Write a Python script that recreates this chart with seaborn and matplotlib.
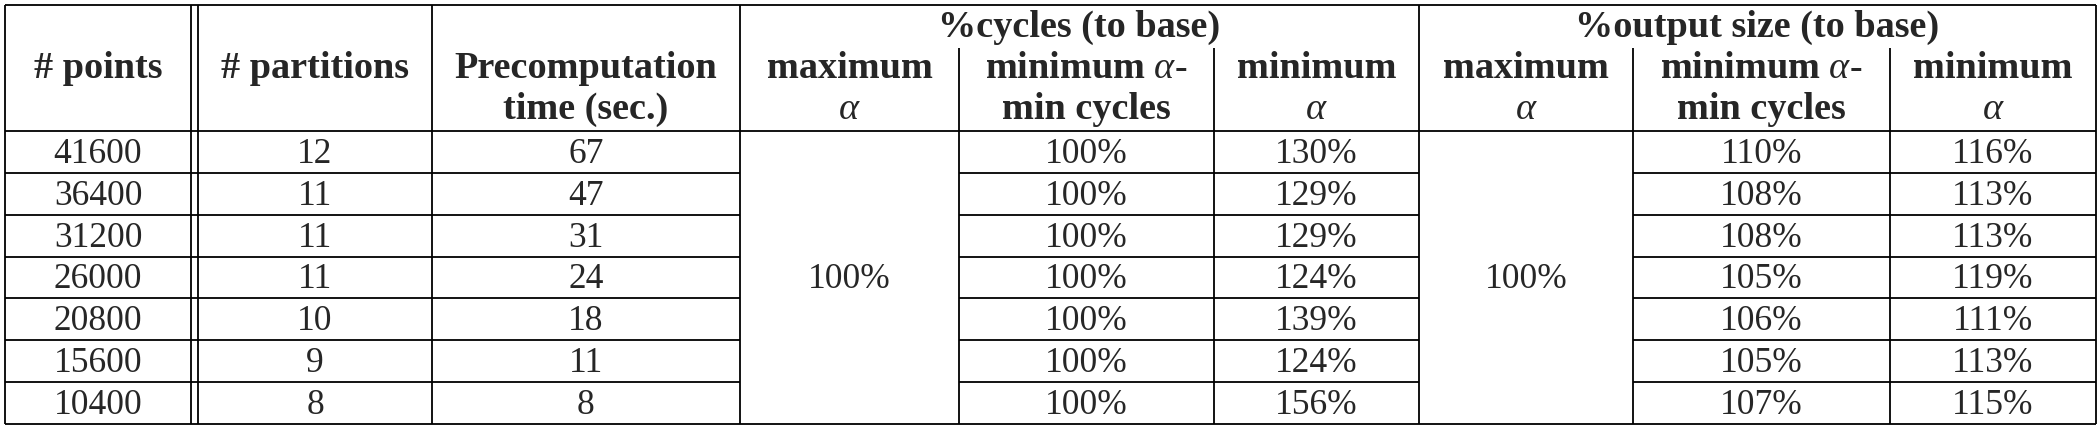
import matplotlib
matplotlib.use("Agg")
import matplotlib.pyplot as plt
import seaborn as sns
import pandas as pd

# table values
points = [41600, 36400, 31200, 26000, 20800, 15600, 10400]
partitions = [12, 11, 11, 11, 10, 9, 8]
precomp_time = [67, 47, 31, 24, 18, 11, 8]
cycles_max_alpha = 100
cycles_min_alpha_min_cycles = [100, 100, 100, 100, 100, 100, 100]
cycles_min_alpha = [130, 129, 129, 124, 139, 124, 156]
size_max_alpha = 100
size_min_alpha_min_cycles = [110, 108, 108, 105, 106, 105, 107]
size_min_alpha = [116, 113, 113, 119, 111, 113, 115]

group_labels = ["%cycles (to base)", "%output size (to base)"]
head_line1 = ["# points", "# partitions", "Precomputation", "maximum", r"minimum $\alpha$-", "minimum",
              "maximum", r"minimum $\alpha$-", "minimum"]
head_line2 = ["", "", "time (sec.)", r"$\alpha$", "min cycles", r"$\alpha$",
              r"$\alpha$", "min cycles", r"$\alpha$"]

df = pd.DataFrame({
    "points": points,
    "partitions": partitions,
    "precomp": precomp_time,
    "c_mamc": cycles_min_alpha_min_cycles,
    "c_min": cycles_min_alpha,
    "s_mamc": size_min_alpha_min_cycles,
    "s_min": size_min_alpha,
})

sns.set_theme(style="white")
plt.rcParams['font.family'] = ['Liberation Serif', 'DejaVu Serif']
plt.rcParams['mathtext.fontset'] = 'custom'
plt.rcParams['mathtext.rm'] = 'Liberation Serif'
plt.rcParams['mathtext.it'] = 'Liberation Serif:italic'
plt.rcParams['mathtext.bf'] = 'Liberation Serif:bold'

W, H = 2100, 429
fig = plt.figure(figsize=(W / 100, H / 100), dpi=100)
ax = fig.add_axes([0, 0, 1, 1])
ax.set_xlim(0, W)
ax.set_ylim(H, 0)
ax.axis('off')

# layout (pixels)
xs = [5, 191, 432, 740, 959, 1214, 1419, 1633, 1890, 2096]
x_double = 198
left_edges = [5, 198, 432, 740, 959, 1214, 1419, 1633, 1890]
y_top, y_sub, y_head, y_bot = 5, 48, 131, 424
nrows = len(points)
row_h = (y_bot - y_head) / nrows
row_y = [y_head + row_h * i for i in range(nrows + 1)]

lc = 'black'
lw = 1.3

# borders and vertical rules
ax.hlines([y_top, y_head, y_bot], xs[0], xs[-1], color=lc, lw=lw)
for x in [xs[0], xs[1], x_double, xs[2], xs[3], xs[6], xs[9]]:
    ax.vlines(x, y_top, y_bot, color=lc, lw=lw)
for x in [xs[4], xs[5], xs[7], xs[8]]:
    ax.vlines(x, y_sub, y_bot, color=lc, lw=lw)
# row rules (skip merged "maximum alpha" columns)
for y in row_y[1:-1]:
    for a, b in [(xs[0], xs[3]), (xs[4], xs[6]), (xs[7], xs[9])]:
        ax.hlines(y, a, b, color=lc, lw=lw)

centers = [(left_edges[i] + xs[i + 1]) / 2 for i in range(9)]
hsize = 27.5
dsize = 25.5

# group headers
ax.text((xs[3] + xs[6]) / 2, 37, group_labels[0], ha='center', va='baseline',
        fontsize=hsize, fontweight='bold')
ax.text((xs[6] + xs[9]) / 2, 37, group_labels[1], ha='center', va='baseline',
        fontsize=hsize, fontweight='bold')

for i in range(9):
    ax.text(centers[i], 78, head_line1[i], ha='center', va='baseline',
            fontsize=hsize, fontweight='bold')
    if head_line2[i]:
        ax.text(centers[i], 119, head_line2[i], ha='center', va='baseline',
                fontsize=hsize, fontweight='bold')

# data cells
cols = [("points", 0, ""), ("partitions", 1, ""), ("precomp", 2, ""),
        ("c_mamc", 4, "%"), ("c_min", 5, "%"), ("s_mamc", 7, "%"), ("s_min", 8, "%")]
for r in range(nrows):
    base = row_y[r + 1] - 10
    for name, ci, suf in cols:
        ax.text(centers[ci], base, f"{df[name].iloc[r]}{suf}", ha='center', va='baseline',
                fontsize=dsize)

# merged maximum alpha cells
mid = nrows // 2
ax.text(centers[3], row_y[mid + 1] - 10, f"{cycles_max_alpha}%", ha='center', va='baseline', fontsize=dsize)
ax.text(centers[6], row_y[mid + 1] - 10, f"{size_max_alpha}%", ha='center', va='baseline', fontsize=dsize)

fig.savefig("out.png", dpi=100, facecolor='white')
